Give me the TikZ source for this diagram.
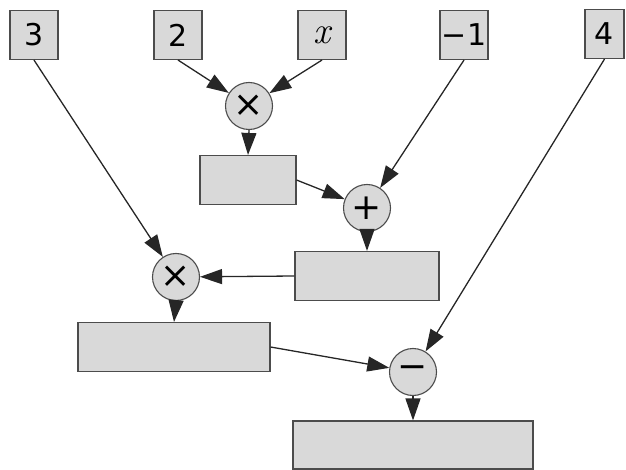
\documentclass[tikz,border=0pt]{standalone}
\usepackage{fontspec}
\setmainfont{DejaVu Sans}
\newfontfamily\lmr{Latin Modern Roman}
\usetikzlibrary{arrows.meta}
\begin{document}
\begin{tikzpicture}[x=1pt,y=-1pt,
  box/.style={draw=black!70, fill=black!15, line width=1.1pt, inner sep=0pt},
  leaf/.style={box, minimum width=48pt, minimum height=49pt, font=\fontsize{30}{30}\selectfont},
  op/.style={circle, draw=black!70, fill=black!15, line width=1.1pt, minimum size=47pt, inner sep=0pt, font=\fontsize{36}{36}\selectfont},
  conn/.style={draw=black!85, line width=1.3pt, -{Triangle[length=22pt,width=15pt]}}]
\useasboundingbox (0,0) rectangle (626,470);
% leaves
\node[leaf] (n3) at (34,35) {3};
\node[leaf] (n2) at (178,35) {2};
\node[leaf] (nx) at (322,35) {\lmr\itshape\fontsize{38}{38}\selectfont x};
\node[leaf] (nm1) at (464,35) {−1};
\node[leaf, minimum width=39pt] (n4) at (604.5,34) {4};
% operators
\node[op] (m1) at (249,106) {×};
\node[op] (p1) at (367,208) {+};
\node[op] (m2) at (176,277) {×};
\node[op] (s1) at (413,372) {−};
% results
\node[box, minimum width=96pt, minimum height=49pt] (r1) at (248,180) {};
\node[box, minimum width=144pt, minimum height=49pt] (r2) at (367,276) {};
\node[box, minimum width=192pt, minimum height=49pt] (r3) at (174,347) {};
\node[box, minimum width=240pt, minimum height=48pt] (r4) at (413,445) {};
% connectors
\draw[conn] (n2.south) -- (m1);
\draw[conn] (nx.south) -- (m1);
\draw[conn] (m1.south) -- (r1.north);
\draw[conn] (r1.east) -- (p1);
\draw[conn] (nm1.south) -- (p1);
\draw[conn] (p1.south) -- (r2.north);
\draw[conn] (r2.west) -- (m2);
\draw[conn] (n3.south) -- (m2);
\draw[conn] (m2.south) -- (r3.north);
\draw[conn] (r3.east) -- (s1);
\draw[conn] (n4.south) -- (s1);
\draw[conn] (s1.south) -- (r4.north);
\end{tikzpicture}
\end{document}
